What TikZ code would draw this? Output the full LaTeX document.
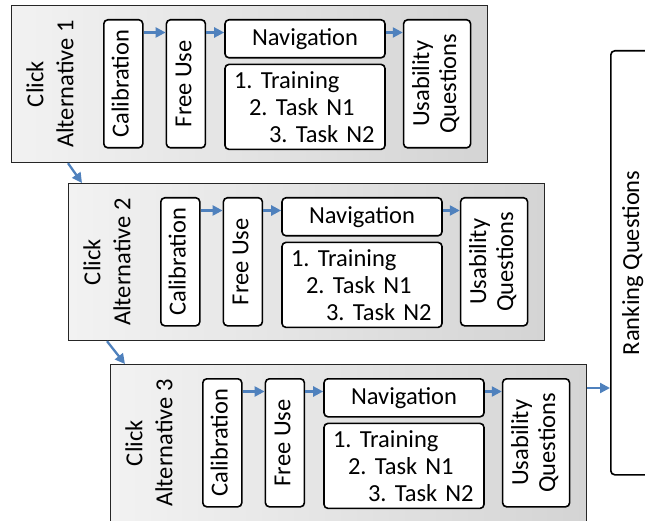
\documentclass[tikz,border=0pt]{standalone}
\usepackage{fontspec}
\setmainfont{Carlito}
\usetikzlibrary{arrows.meta, positioning, calc}
\definecolor{flowblue}{RGB}{79,129,189}
\definecolor{panelleft}{RGB}{242,242,242}
\definecolor{panelright}{RGB}{212,212,212}
\newcommand{\vtext}[1]{\rotatebox{90}{\begin{tabular}{@{}c@{}}#1\end{tabular}}}
\frenchspacing
\setlength{\parindent}{0pt}

\begin{document}
\begin{tikzpicture}[
        x=1pt, y=1pt,
        font=\fontsize{24.5}{27}\selectfont,
        altbox/.style={rectangle, draw=black!85, line width=1.2pt, left color=panelleft, right color=panelright, minimum width=476pt, minimum height=157pt, inner sep=0pt},
        stepbox/.style={rectangle, draw, line width=1.6pt, fill=white, rounded corners=4pt, inner sep=0pt, align=center},
        tallbox/.style={stepbox, minimum height=128pt},
        listbox/.style={stepbox, minimum width=160pt, minimum height=85pt, text width=142pt, inner xsep=9pt, align=left},
        flow/.style={-{Triangle[length=10pt, width=10pt]}, line width=2.3pt, flowblue}
    ]
        \clip (0,0) rectangle (645,520);

        \foreach \i/\x/\y in {1/11/515, 2/68/337, 3/110/156} {
            \node[altbox, anchor=north west] (alt\i) at (\x,\y) {};
            \node (click\i) at ($(alt\i.west)+(42,0)$) {\vtext{Click\\[3pt]Alternative \i}};
            \node[tallbox, minimum width=39pt, anchor=north west] (cal\i) at ($(alt\i.north west)+(92,-14)$) {\vtext{Calibration}};
            \node[tallbox, minimum width=39pt, right=22pt of cal\i] (free\i) {\vtext{Free Use}};
            \node[stepbox, minimum width=160pt, minimum height=38pt, right=18pt of free\i.north east, anchor=north west] (nav\i) {Navigation};
            \node[listbox, below=5pt of nav\i] (list\i) {1. Training\\\hspace*{15pt}2. Task N1\\\hspace*{35pt}3. Task N2};
            \node[tallbox, minimum width=67pt, right=17pt of nav\i.north east, anchor=north west] (usab\i) {\vtext{Usability\\Questions}};

            \coordinate (lvl\i) at ($(nav\i.north west)+(0,-13.5)$);
            \draw[flow] (cal\i.east |- lvl\i) -- (free\i.west |- lvl\i);
            \draw[flow] (free\i.east |- lvl\i) -- (nav\i.west |- lvl\i);
            \draw[flow] (nav\i.east |- lvl\i) -- (usab\i.west |- lvl\i);
        }

        \node[stepbox, minimum width=46pt, minimum height=424pt, anchor=north west] (rank) at (610,470) {\vtext{Ranking Questions}};

        \draw[flow] (alt1.south -| alt2.west) -- ([xshift=14pt]alt2.north west);
        \draw[flow] ([xshift=-3pt]alt2.south -| alt3.west) -- ([xshift=15pt]alt3.north west);
        \coordinate (exit) at ([yshift=-24pt]alt3.north east);
        \draw[flow] (exit) -- (exit -| rank.west);
    \end{tikzpicture}
\end{document}
